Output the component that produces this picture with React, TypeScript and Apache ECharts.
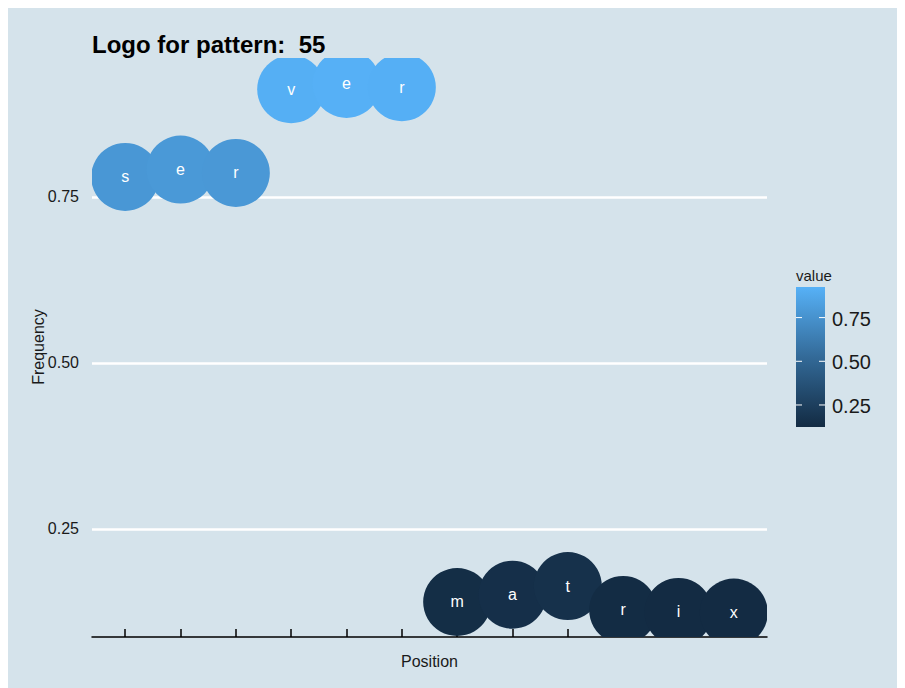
import React, { useEffect, useRef } from "react";
import * as echarts from "echarts";

const letters = ["s", "e", "r", "v", "e", "r", "m", "a", "t", "r", "i", "x"];
const positions = [1, 2, 3, 4, 5, 6, 7, 8, 9, 10, 11, 12];
const frequencies = [0.78, 0.791, 0.786, 0.912, 0.92, 0.915, 0.14, 0.151, 0.164, 0.128, 0.125, 0.124];
const yTicks = [0.25, 0.5, 0.75];
const legendTicks = [0.25, 0.5, 0.75];
const legendLabels = ["0.25", "0.50", "0.75"];
const colorMin = 0.124;
const colorMax = 0.925;

const FONT = "'Liberation Sans', Arial, sans-serif";

export default function App() {
  const ref = useRef<HTMLDivElement>(null);
  useEffect(() => {
    if (!ref.current) return;
    const chart = echarts.init(ref.current, null, { renderer: "svg" });
    const data = positions.map((p, i) => [p, frequencies[i], i]);

    const lgX = 788, lgY = 279, lgW = 29, lgH = 140;
    const legY = (v: number) => lgY + ((colorMax - v) / (colorMax - colorMin)) * lgH;
    const legendEls: any[] = [
      {
        type: "text",
        x: 30,
        y: 339,
        rotation: Math.PI / 2,
        style: { text: "Frequency", font: `16px ${FONT}`, fill: "#1a1a1a", align: "center", verticalAlign: "middle" },
      },
      {
        type: "rect",
        shape: { x: lgX, y: lgY, width: lgW, height: lgH },
        style: {
          fill: new echarts.graphic.LinearGradient(0, 0, 0, 1, [
            { offset: 0, color: "#56B1F7" },
            { offset: 0.5, color: "#336A98" },
            { offset: 1, color: "#132B43" },
          ]),
        },
      },
      {
        type: "text",
        x: lgX,
        y: lgY - 12,
        style: { text: "value", font: `15px ${FONT}`, fill: "#1a1a1a", verticalAlign: "middle", align: "left" },
      },
    ];
    legendTicks.forEach((v, i) => {
      const y = legY(v);
      legendEls.push({ type: "line", shape: { x1: lgX, y1: y, x2: lgX + 6, y2: y }, style: { stroke: "#fff", lineWidth: 1 } });
      legendEls.push({ type: "line", shape: { x1: lgX + lgW - 6, y1: y, x2: lgX + lgW, y2: y }, style: { stroke: "#fff", lineWidth: 1 } });
      legendEls.push({
        type: "text",
        x: lgX + lgW + 7,
        y: y + 1,
        style: { text: legendLabels[i], font: `20px ${FONT}`, fill: "#1a1a1a", verticalAlign: "middle", align: "left" },
      });
    });

    chart.setOption({
      animation: false,
      backgroundColor: "#d5e3eb",
      title: {
        text: "Logo for pattern:  55",
        left: 79,
        top: 19,
        textStyle: { fontFamily: FONT, fontSize: 24, fontWeight: "bold", color: "#000" },
      },
      grid: { left: 84, right: 130, top: 50, bottom: 51 },
      xAxis: {
        type: "value",
        min: 0.4,
        max: 12.6,
        name: "Position",
        nameLocation: "middle",
        nameGap: 16,
        nameMoveOverlap: false,
        nameTextStyle: { fontFamily: FONT, fontSize: 16, color: "#1a1a1a" },
        axisLine: { show: true, onZero: false, lineStyle: { color: "#000", width: 1.5 } },
        axisTick: { show: true, inside: true, length: 8, customValues: positions, lineStyle: { color: "#000", width: 1.5 } },
        axisLabel: { show: false },
        splitLine: { show: false },
      },
      yAxis: {
        type: "value",
        min: 0.0873,
        max: 0.959,
        axisLine: { show: false },
        axisTick: { show: false, customValues: yTicks },
        axisLabel: {
          customValues: yTicks,
          margin: 13,
          fontFamily: FONT,
          fontSize: 16,
          color: "#1a1a1a",
          formatter: (v: number) => v.toFixed(2),
        },
        splitLine: { show: true, lineStyle: { color: "#ffffff", width: 2.5 } },
      },
      visualMap: {
        show: false,
        type: "continuous",
        dimension: 1,
        min: colorMin,
        max: colorMax,
        seriesIndex: 0,
        inRange: { color: ["#132B43", "#336A98", "#56B1F7"] },
      },
      graphic: legendEls,
      series: [
        {
          type: "custom",
          clip: true,
          data,
          encode: { x: 0, y: 1 },
          renderItem: (params: any, api: any) => {
            const pt = api.coord([api.value(0), api.value(1)]);
            const color = api.visual("color");
            return {
              type: "group",
              children: [
                { type: "circle", shape: { cx: pt[0], cy: pt[1], r: 34 }, style: { fill: color } },
                {
                  type: "text",
                  x: pt[0],
                  y: pt[1],
                  style: {
                    text: letters[params.dataIndex],
                    fill: "#ffffff",
                    font: `16px ${FONT}`,
                    align: "center",
                    verticalAlign: "middle",
                  },
                },
              ],
            };
          },
        },
      ],
    });
    return () => chart.dispose();
  }, []);
  return <div ref={ref} style={{ width: 889, height: 680 }} />;
}
